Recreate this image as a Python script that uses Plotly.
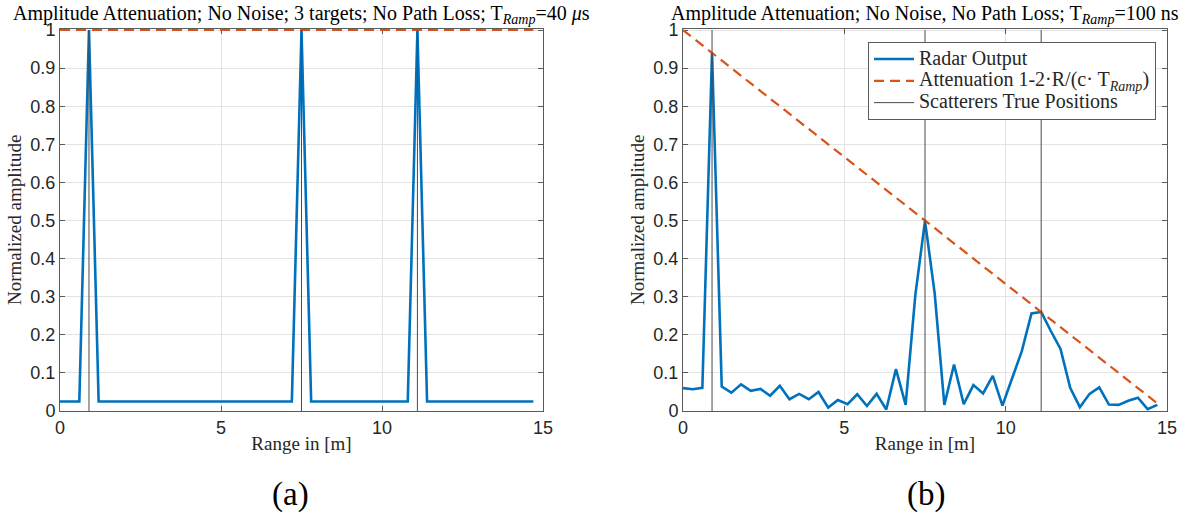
import plotly.graph_objects as go

range_m = [0.0, 0.3, 0.6, 0.9, 1.2, 1.5, 1.8, 2.1, 2.4, 2.7, 3.0, 3.3, 3.6, 3.9, 4.2, 4.5, 4.8, 5.1, 5.4, 5.7,
           6.0, 6.3, 6.6, 6.9, 7.2, 7.5, 7.8, 8.1, 8.4, 8.7, 9.0, 9.3, 9.6, 9.9, 10.2, 10.5, 10.8, 11.1, 11.4, 11.7,
           12.0, 12.3, 12.6, 12.9, 13.2, 13.5, 13.8, 14.1, 14.4, 14.7]

radar_a = [0.025, 0.025, 0.025, 1.0, 0.025, 0.025, 0.025, 0.025, 0.025, 0.025, 0.025, 0.025, 0.025, 0.025, 0.025,
           0.025, 0.025, 0.025, 0.025, 0.025, 0.025, 0.025, 0.025, 0.025, 0.025, 1.0, 0.025, 0.025, 0.025, 0.025,
           0.025, 0.025, 0.025, 0.025, 0.025, 0.025, 0.025, 1.0, 0.025, 0.025, 0.025, 0.025, 0.025, 0.025, 0.025,
           0.025, 0.025, 0.025, 0.025, 0.025]

radar_b = [0.060, 0.057, 0.061, 0.940, 0.064, 0.048, 0.070, 0.053, 0.058, 0.040, 0.066, 0.031, 0.045, 0.031, 0.050,
           0.009, 0.029, 0.018, 0.044, 0.013, 0.045, 0.004, 0.110, 0.016, 0.304, 0.499, 0.309, 0.016, 0.122, 0.018,
           0.068, 0.046, 0.092, 0.014, 0.086, 0.157, 0.256, 0.260, 0.210, 0.163, 0.061, 0.010, 0.045, 0.062, 0.017,
           0.016, 0.027, 0.035, 0.005, 0.016]

atten_a_x = [0.0, 14.7]
atten_a_y = [1.0, 1.0]
atten_b_x = [0.0, 14.7]
atten_b_y = [1.0, 0.02]

scatterers = [0.9, 7.5, 11.1]

x_ticks = [0, 5, 10, 15]
y_ticks = [0, 0.1, 0.2, 0.3, 0.4, 0.5, 0.6, 0.7, 0.8, 0.9, 1]
y_tick_text = ["0", "0.1", "0.2", "0.3", "0.4", "0.5", "0.6", "0.7", "0.8", "0.9", "1"]

BLUE = "#0072BD"
RED = "#D95319"
GRAY = "#4a4a4a"
SERIF = "Liberation Serif"
SANS = "Liberation Sans"
SFS = 19
LEG_FS = 20

W, H = 1183, 513
def px_x(p): return p / W
def px_y(p): return 1 - p / H

def big(s):
    return '<span style="font-size:%dpx">%s</span>' % (LEG_FS, s)

fig = go.Figure()

def vlines(xs):
    xx, yy = [], []
    for v in xs:
        xx += [v, v, None]
        yy += [0, 1, None]
    return xx, yy

for i, (radar, ax, ay) in enumerate([(radar_a, atten_a_x, atten_a_y), (radar_b, atten_b_x, atten_b_y)]):
    xa = "x" if i == 0 else "x2"
    ya = "y" if i == 0 else "y2"
    show = i == 1
    fig.add_trace(go.Scatter(x=range_m, y=radar, mode="lines", line=dict(color=BLUE, width=2.6),
                             name=big("Radar Output"), showlegend=show, xaxis=xa, yaxis=ya))
    fig.add_trace(go.Scatter(x=ax, y=ay, mode="lines", line=dict(color=RED, width=2.2, dash="10px,6px"),
                             name=big("Attenuation 1-2·R/(c· T<sub><i>Ramp</i></sub>)"), showlegend=show,
                             xaxis=xa, yaxis=ya))
    vx, vy = vlines(scatterers)
    fig.add_trace(go.Scatter(x=vx, y=vy, mode="lines", line=dict(color=GRAY, width=1),
                             name=big("Scatterers True Positions"), showlegend=show, xaxis=xa, yaxis=ya))

axis_common = dict(showline=True, linecolor="#5a5a5a", linewidth=1, mirror="ticks", ticks="inside", ticklen=5,
                   tickcolor="#5a5a5a", showgrid=True, gridcolor="#e3e3e3", gridwidth=1, zeroline=False,
                   automargin=False, layer="below traces",
                   tickfont=dict(family=SANS, size=18, color="#262626"))

xaxis_cfg = dict(axis_common, range=[0, 15], tickvals=x_ticks, ticktext=[str(t) for t in x_ticks],
                 title=dict(text="Range in [m]", font=dict(family=SERIF, size=SFS, color="#262626"), standoff=0))
yaxis_cfg = dict(axis_common, range=[0, 1.004], tickvals=y_ticks, ticktext=y_tick_text,
                 title=dict(text="Normalized amplitude", font=dict(family=SERIF, size=SFS, color="#262626"), standoff=3))

fig.update_layout(
    width=W, height=H,
    margin=dict(l=0, r=0, t=0, b=0),
    paper_bgcolor="white", plot_bgcolor="white",
    xaxis=dict(xaxis_cfg, domain=[px_x(60), px_x(543)], anchor="y"),
    yaxis=dict(yaxis_cfg, domain=[px_y(411), px_y(28.5)], anchor="x"),
    xaxis2=dict(xaxis_cfg, domain=[px_x(683), px_x(1167)], anchor="y2"),
    yaxis2=dict(yaxis_cfg, domain=[px_y(411), px_y(28.5)], anchor="x2"),
    legend=dict(x=px_x(868), y=px_y(42), xanchor="left", yanchor="top", bgcolor="white",
                bordercolor="#5a5a5a", borderwidth=1, font=dict(family=SERIF, size=14.5, color="#262626"),
                tracegroupgap=0, itemwidth=40),
    showlegend=True,
)

fig.add_annotation(text="Amplitude Attenuation; No Noise; 3 targets; No Path Loss; T<sub><i>Ramp</i></sub>=40 <i>μ</i>s",
                   x=px_x(301), y=px_y(14), xref="paper", yref="paper", showarrow=False,
                   xanchor="center", yanchor="middle",
                   font=dict(family=SERIF, size=20, color="black"))
fig.add_annotation(text="Amplitude Attenuation; No Noise, No Path Loss; T<sub><i>Ramp</i></sub>=100 ns",
                   x=px_x(925), y=px_y(14), xref="paper", yref="paper", showarrow=False,
                   xanchor="center", yanchor="middle",
                   font=dict(family=SERIF, size=20, color="black"))
fig.add_annotation(text="(a)", x=px_x(290), y=px_y(494), xref="paper", yref="paper", showarrow=False,
                   xanchor="center", yanchor="middle",
                   font=dict(family=SERIF, size=33, color="black"))
fig.add_annotation(text="(b)", x=px_x(926), y=px_y(494), xref="paper", yref="paper", showarrow=False,
                   xanchor="center", yanchor="middle",
                   font=dict(family=SERIF, size=33, color="black"))

fig.write_html("out.html", config={"displayModeBar": False},
               post_script="document.body.style.margin='0px';document.body.style.overflow='hidden';")
